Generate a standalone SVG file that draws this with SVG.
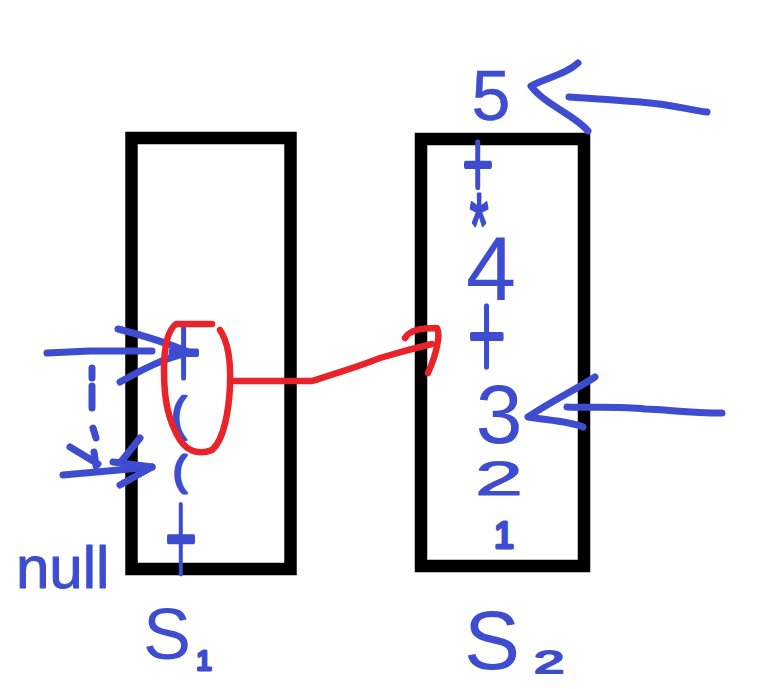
<svg xmlns="http://www.w3.org/2000/svg" width="758" height="689" viewBox="0 0 758 689">
<style>
.t{fill:#3E4CD0;stroke:#3E4CD0;stroke-linejoin:round;font-family:"Liberation Sans",Arial,sans-serif;text-anchor:middle}
.p{fill:#3E4CD0;stroke:#3E4CD0;stroke-width:5;stroke-linejoin:round;stroke-linecap:round;vector-effect:non-scaling-stroke;font-family:Roboto,"Liberation Sans",sans-serif;font-weight:100;text-anchor:middle}
.bl{fill:none;stroke:#3E4CD0;stroke-width:7;stroke-linecap:round;stroke-linejoin:round}
.rd{fill:none;stroke:#E8232A;stroke-width:6.5;stroke-linecap:round;stroke-linejoin:round}
.box{fill:none;stroke:#000;stroke-width:12.5}
</style>
<rect width="758" height="689" fill="#fff"/>
<g id="s1">
<rect class="box" x="131.5" y="138" width="159" height="431"/>
<text class="p" font-size="55" transform="translate(184,352) scale(1,1.75)" y="19">+</text>
<text class="t" font-size="46" stroke-width="2.5" x="179" y="430">(</text>
<text class="t" font-size="40" stroke-width="3" x="180" y="485">(</text>
<text class="p" font-size="52" transform="translate(181,536) scale(1,2.5)" y="18.2">+</text>
<text class="t" font-size="72" stroke-width="0" x="167" y="659">S</text>
<text class="t" font-size="28" stroke-width="3" x="204" y="670">1</text>
</g>
<g id="s2">
<rect class="box" x="421" y="139" width="163" height="427"/>
<text class="t" font-size="70" stroke-width="0.5" x="491" y="120">5</text>
<text class="p" font-size="50" transform="translate(478,163) scale(1,1.7)" y="17.5">+</text>
<text class="t" font-size="60" stroke-width="2" transform="translate(479,206) scale(0.8,1.5)" y="34">*</text>
<text class="t" font-size="90" stroke-width="0" x="491" y="300">4</text>
<text class="p" font-size="62" transform="translate(487,335) scale(1,1.85)" y="21.7">+</text>
<text class="t" font-size="84" stroke-width="0" x="499" y="443">3</text>
<text class="t" font-size="48" stroke-width="1" transform="translate(499,495) scale(1.8,1)">2</text>
<text class="t" font-size="36" stroke-width="3" x="504" y="548">1</text>
<text class="t" font-size="84" stroke-width="0" x="492" y="669">S</text>
<text class="t" font-size="32" stroke-width="2" transform="translate(549,673) scale(1.7,1)">2</text>
</g>
<g id="null-label">
<text class="t" font-size="60" stroke-width="1" x="16" y="588" style="text-anchor:start">null</text>
</g>
<g id="connectors">
<path class="bl" d="M707,112 C690,110 670,104 640,102 C610,100 590,98 569,97"/>
<path class="bl" d="M578,63 C565,75 545,78 531,86 C545,105 575,115 588,131"/>
<path class="bl" d="M722,413 C690,413 670,410 645,409 C620,406 590,408 567,407"/>
<path class="bl" d="M595,377 C575,390 550,402 528,417 C545,420 570,421 583,427"/>
<path class="bl" d="M47,353 L90,351 L152,351"/>
<path class="bl" d="M118,329 C145,336 170,344 188,352 M120,382 C145,368 165,358 187,353"/>
<path class="bl" d="M92,368 L92,378 M92,386 L92,408 M93,428 L96,438"/>
<path class="bl" d="M70,447 L98,464 M94,452 L96,466"/>
<path class="bl" d="M63,475 L152,467"/>
<path class="bl" d="M140,438 L120,463 M113,462 L152,467 M120,485 L152,467"/>
<path class="rd" d="M212,324 L176,324 C168,330 164,345 164,370 C164,400 168,420 180,440 C188,452 200,455 212,450 C224,440 229,410 230,385 C231,360 228,342 220,330"/>
<path class="rd" d="M235,381 L312,381 C330,375 355,368 380,358 C400,352 415,348 432,344"/>
<path class="rd" d="M405,338 C410,330 420,328 437,328 C441,335 436,355 428,373"/>
</g>
</svg>
